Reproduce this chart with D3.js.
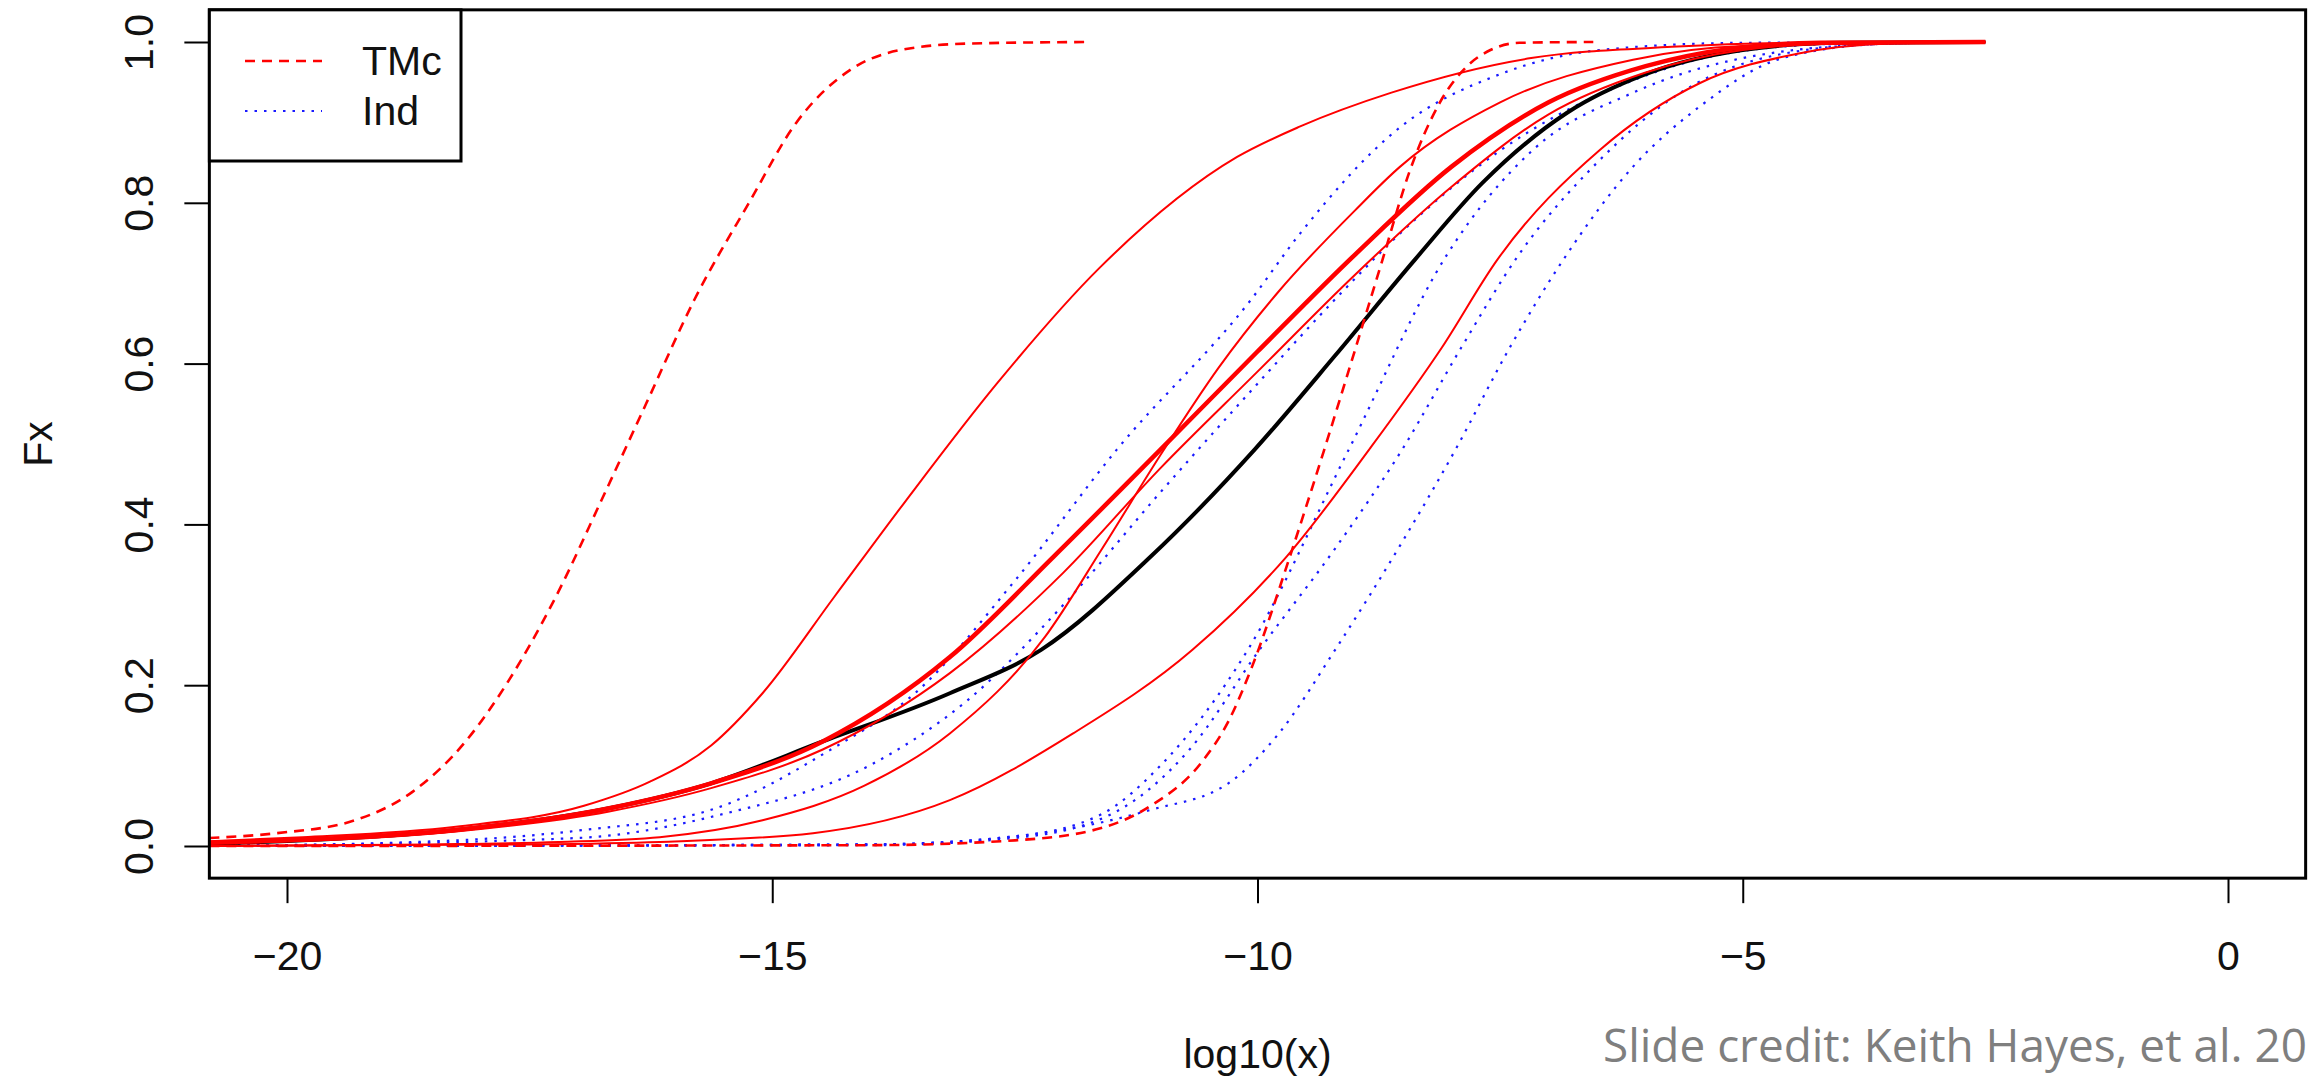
<!DOCTYPE html>
<html>
<head>
<meta charset="utf-8">
<script src="https://cdn.jsdelivr.net/npm/d3@7"></script>
<style>
  body { margin: 0; background: #fff; }
  svg { display: block; }
</style>
</head>
<body>
<div id="chart"></div>
<script>
// curves: [log10(x), Fx]
const tmcLeft = [[-20.8,0.010],[-20.1,0.016],[-19.3,0.032],[-18.7,0.068],[-18.16,0.13],[-17.73,0.203],[-17.23,0.31],[-16.76,0.43],[-16.3,0.55],[-15.8,0.68],[-15.24,0.80],[-14.75,0.90],[-14.2,0.965],[-13.68,0.99],[-13.0,0.998],[-11.74,1.0]]
const tmcSteep = [[-20.8,0.0],[-14,0.001],[-12.5,0.007],[-11.62,0.022],[-11.1,0.05],[-10.57,0.105],[-10.3,0.155],[-10.05,0.225],[-9.68,0.355],[-9.32,0.49],[-9.0,0.615],[-8.71,0.73],[-8.43,0.84],[-8.12,0.925],[-7.84,0.97],[-7.6,0.99],[-7.3,0.999],[-6.54,1.0]]

const redB = [[-20.8,0.006],[-19.84,0.011],[-18.26,0.024],[-16.94,0.05],[-16.26,0.08],[-15.63,0.125],[-15.1,0.19],[-14.36,0.31],[-13.62,0.43],[-12.68,0.576],[-11.62,0.72],[-10.21,0.857],[-9.56,0.895],[-8.62,0.937],[-7.18,0.98],[-5.73,0.994],[-4.5,0.999],[-2.5,1.0]]
const redD = [[-20.8,0.0],[-18.5,0.002],[-17.2,0.005],[-16.16,0.011],[-15.1,0.032],[-14.05,0.075],[-13.17,0.14],[-12.19,0.26],[-11.6,0.37],[-10.98,0.49],[-10.4,0.595],[-9.78,0.69],[-9.0,0.79],[-8.53,0.845],[-7.5,0.925],[-6.13,0.978],[-5.0,0.995],[-2.5,1.0]]
const redThick = [[-20.8,0.004],[-19.84,0.008],[-18.26,0.02],[-16.68,0.047],[-15.63,0.078],[-14.48,0.13],[-13.17,0.235],[-12.1,0.36],[-11.0,0.493],[-10.0,0.615],[-9.0,0.735],[-8.0,0.845],[-7.0,0.925],[-6.0,0.97],[-5.1,0.992],[-4.2,0.999],[-2.5,1.0]]
const redThin = [[-20.8,0.003],[-18.26,0.018],[-16.68,0.043],[-15.63,0.072],[-14.48,0.12],[-13.17,0.215],[-12.0,0.34],[-11.0,0.47],[-10.0,0.59],[-9.0,0.71],[-8.0,0.82],[-7.0,0.91],[-6.0,0.962],[-5.0,0.99],[-4.0,0.998],[-2.5,1.0]]
const redH = [[-20.8,0.0],[-17.5,0.002],[-16.16,0.005],[-14.58,0.016],[-13.17,0.057],[-11.9,0.14],[-10.67,0.244],[-9.7,0.36],[-8.85,0.493],[-8.1,0.62],[-7.53,0.729],[-6.47,0.866],[-5.44,0.949],[-4.41,0.986],[-3.5,0.998],[-2.5,1.0]]

const fxBlack = [[-20.8,0.003],[-19.84,0.007],[-18.26,0.02],[-16.68,0.047],[-15.63,0.078],[-14.48,0.13],[-13.17,0.19],[-12.23,0.244],[-11.1,0.36],[-10.03,0.493],[-9.2,0.61],[-8.38,0.729],[-7.68,0.825],[-6.81,0.912],[-6.0,0.96],[-5.0,0.99],[-4.0,0.999],[-2.5,1.0]]

const indE = [[-20.8,0.0],[-18.26,0.007],[-16.94,0.02],[-15.63,0.045],[-14.41,0.119],[-13.53,0.19],[-12.5,0.33],[-11.45,0.493],[-10.07,0.679],[-9.56,0.762],[-8.53,0.894],[-7.5,0.96],[-6.47,0.99],[-5.0,0.999],[-2.5,1.0]]
const indL = [[-20.8,0.0],[-17,0.01],[-15.5,0.04],[-14,0.1],[-13,0.18],[-12,0.3],[-11,0.44],[-10,0.575],[-9.2,0.68],[-8.53,0.762],[-7.5,0.865],[-6.3,0.944],[-5.2,0.985],[-4,0.998],[-2.5,1.0]]
const indJ = [[-20.8,0.0],[-14,0.002],[-12.5,0.012],[-11.6,0.04],[-11.0,0.1],[-10.1,0.244],[-9.06,0.493],[-8.05,0.735],[-7.16,0.866],[-6.13,0.937],[-5.0,0.98],[-3.5,0.998],[-2.5,1.0]]
const indK = [[-20.8,0.0],[-14,0.001],[-12.5,0.01],[-11.5,0.04],[-10.7,0.12],[-9.98,0.244],[-9.2,0.37],[-8.51,0.493],[-7.9,0.62],[-7.31,0.735],[-6.5,0.85],[-5.6,0.94],[-4.6,0.985],[-3.5,0.998],[-2.5,1.0]]
const indI = [[-20.8,0.0],[-14,0.002],[-12.5,0.012],[-11.62,0.029],[-11.1,0.045],[-10.3,0.078],[-9.78,0.14],[-9.2,0.244],[-8.5,0.38],[-7.96,0.493],[-7.4,0.62],[-6.85,0.729],[-6.13,0.845],[-5.44,0.92],[-4.59,0.98],[-3.5,0.998],[-2.5,1.0]]

const xTicks = [-20, -15, -10, -5, 0]
const yTicks = [0, 0.2, 0.4, 0.6, 0.8, 1.0]
const legendLabels = ["TMc", "Ind"]

const W = 2316, H = 1080
const font = "'Liberation Sans', Arial, sans-serif"

const svg = d3.select("#chart").append("svg")
  .attr("width", W)
  .attr("height", H)

// scales, R style: 4% padding round the data range
const x = d3.scaleLinear().domain([-20, 0]).range([287, 2228])
const y = d3.scaleLinear().domain([0, 1]).range([846, 42])
const plotL = x(-20.8), plotR = x(0.8), plotT = y(1.04), plotB = y(-0.04)

svg.append("defs").append("clipPath").attr("id", "plotclip")
  .append("rect")
    .attr("x", plotL).attr("y", plotT)
    .attr("width", plotR - plotL).attr("height", plotB - plotT)

const line = d3.line()
  .x(d => x(d[0]))
  .y(d => y(d[1]))
  .curve(d3.curveMonotoneX)

const styles = {
  ind: {stroke: "#1a1aff", width: 2.2, dash: "2.5,7"},
  black: {stroke: "#000", width: 4, dash: null},
  red: {stroke: "#ff0000", width: 2, dash: null},
  redThick: {stroke: "#ff0000", width: 4.5, dash: null},
  tmc: {stroke: "#ff0000", width: 2.6, dash: "10,7"}
}

const series = [
  {data: indE, s: "ind"},
  {data: indL, s: "ind"},
  {data: indJ, s: "ind"},
  {data: indK, s: "ind"},
  {data: indI, s: "ind"},
  {data: fxBlack, s: "black"},
  {data: redB, s: "red"},
  {data: redD, s: "red"},
  {data: redH, s: "red"},
  {data: redThin, s: "red"},
  {data: redThick, s: "redThick"},
  {data: tmcLeft, s: "tmc"},
  {data: tmcSteep, s: "tmc"}
]

svg.append("g")
  .attr("clip-path", "url(#plotclip)")
  .selectAll("path")
  .data(series)
  .join("path")
    .attr("d", d => line(d.data))
    .attr("fill", "none")
    .attr("stroke", d => styles[d.s].stroke)
    .attr("stroke-width", d => styles[d.s].width)
    .attr("stroke-dasharray", d => styles[d.s].dash)
    .attr("stroke-linejoin", "round")

// box
svg.append("rect")
  .attr("x", plotL).attr("y", plotT)
  .attr("width", plotR - plotL).attr("height", plotB - plotT)
  .attr("fill", "none")
  .attr("stroke", "#000")
  .attr("stroke-width", 3)

// x axis
const gx = svg.append("g")
  .attr("transform", `translate(0,${plotB})`)
  .call(d3.axisBottom(x).tickValues(xTicks).tickSize(25))
gx.select(".domain").remove()
gx.selectAll(".tick line").attr("stroke", "#000").attr("stroke-width", 2)
gx.selectAll(".tick text")
  .attr("y", 92).attr("dy", null)
  .attr("fill", "#111")
  .style("font", `41px ${font}`)

// y axis, labels turned like R's las=0
const gy = svg.append("g")
  .attr("transform", `translate(${plotL},0)`)
  .call(d3.axisLeft(y).tickValues(yTicks).tickSize(25).tickFormat(d3.format(".1f")))
gy.select(".domain").remove()
gy.selectAll(".tick line").attr("stroke", "#000").attr("stroke-width", 2)
gy.selectAll(".tick text")
  .attr("x", null).attr("dy", null)
  .attr("transform", `translate(${153 - plotL},0) rotate(-90)`)
  .attr("text-anchor", "middle")
  .attr("fill", "#111")
  .style("font", `41px ${font}`)

// axis titles
svg.append("text")
  .attr("x", (plotL + plotR) / 2).attr("y", 1068)
  .attr("text-anchor", "middle")
  .style("font", `41px ${font}`)
  .attr("fill", "#111")
  .text("log10(x)")

svg.append("text")
  .attr("transform", `translate(52,${(plotT + plotB) / 2}) rotate(-90)`)
  .attr("text-anchor", "middle")
  .style("font", `41px ${font}`)
  .attr("fill", "#111")
  .text("Fx")

// legend
const legend = svg.append("g")
legend.append("rect")
  .attr("x", plotL).attr("y", plotT)
  .attr("width", 461 - plotL).attr("height", 161 - plotT)
  .attr("fill", "#fff")
  .attr("stroke", "#000")
  .attr("stroke-width", 3)

const legendStyle = [styles.tmc, styles.ind]
legendLabels.forEach((lab, i) => {
  const ly = 61 + i * 50
  legend.append("line")
    .attr("x1", 245).attr("x2", 322)
    .attr("y1", ly).attr("y2", ly)
    .attr("stroke", legendStyle[i].stroke)
    .attr("stroke-width", legendStyle[i].width)
    .attr("stroke-dasharray", legendStyle[i].dash)
  legend.append("text")
    .attr("x", 362).attr("y", ly + 14)
    .style("font", `41px ${font}`)
    .attr("fill", "#111")
    .text(lab)
})

// slide footer
svg.append("text")
  .attr("x", 1603).attr("y", 1062)
  .attr("textLength", 704)
  .attr("lengthAdjust", "spacingAndGlyphs")
  .style("font", "46px 'Open Sans', sans-serif")
  .attr("fill", "#7f7f7f")
  .text("Slide credit: Keith Hayes, et al. 20")
</script>
</body>
</html>
